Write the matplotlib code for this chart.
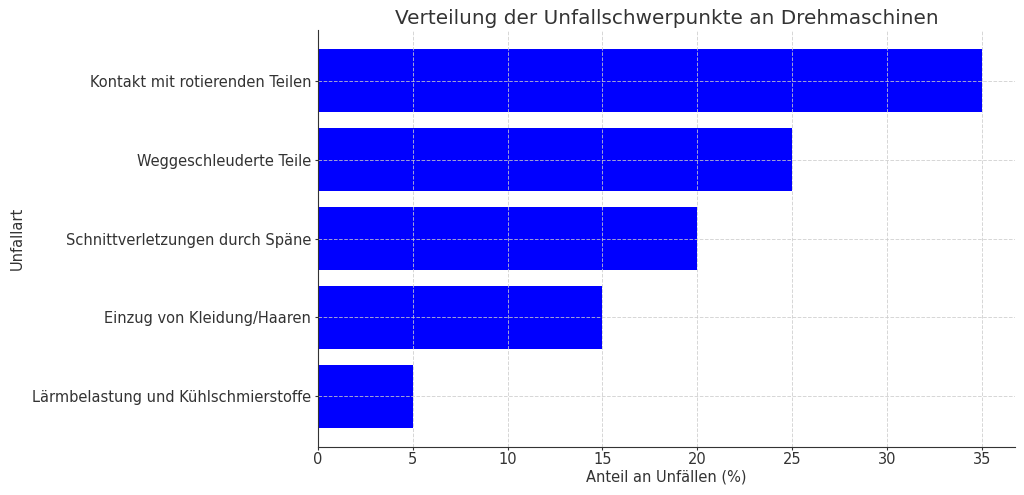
import matplotlib
matplotlib.use("Agg")
import matplotlib.pyplot as plt

categories = ["Kontakt mit rotierenden Teilen", "Weggeschleuderte Teile",
              "Schnittverletzungen durch Späne", "Einzug von Kleidung/Haaren",
              "Lärmbelastung und Kühlschmierstoffe"]
values = [35, 25, 20, 15, 5]

text_color = "#333333"
fig = plt.figure(figsize=(10.24, 4.95), dpi=100)
ax = fig.add_axes([318/1024, 1 - 447/495, (1015-318)/1024, (447-30)/495])
ax.barh(categories[::-1], values[::-1], color="#0000ff", height=0.8, zorder=2)
ax.grid(True, linestyle="--", color="#cccccc", linewidth=0.7, alpha=0.8, zorder=3)
ax.set_axisbelow(False)
ax.spines["top"].set_visible(False)
ax.spines["right"].set_visible(False)
for s in ("left", "bottom"):
    ax.spines[s].set_color(text_color)
    ax.spines[s].set_zorder(5)
ax.tick_params(colors=text_color, labelsize=10.5, length=2, pad=3)
ax.tick_params(axis="x", pad=1.5)
ax.set_xlabel("Anteil an Unfällen (%)", fontsize=10.5, color=text_color, labelpad=2)
ax.set_ylabel("Unfallart", fontsize=10.5, color=text_color)
ax.yaxis.set_label_coords(-(318 - 25) / (1015 - 318), 0.5)
ax.set_title("Verteilung der Unfallschwerpunkte an Drehmaschinen", fontsize=14.4,
             color=text_color, pad=4)
fig.savefig("out.png", dpi=100)
